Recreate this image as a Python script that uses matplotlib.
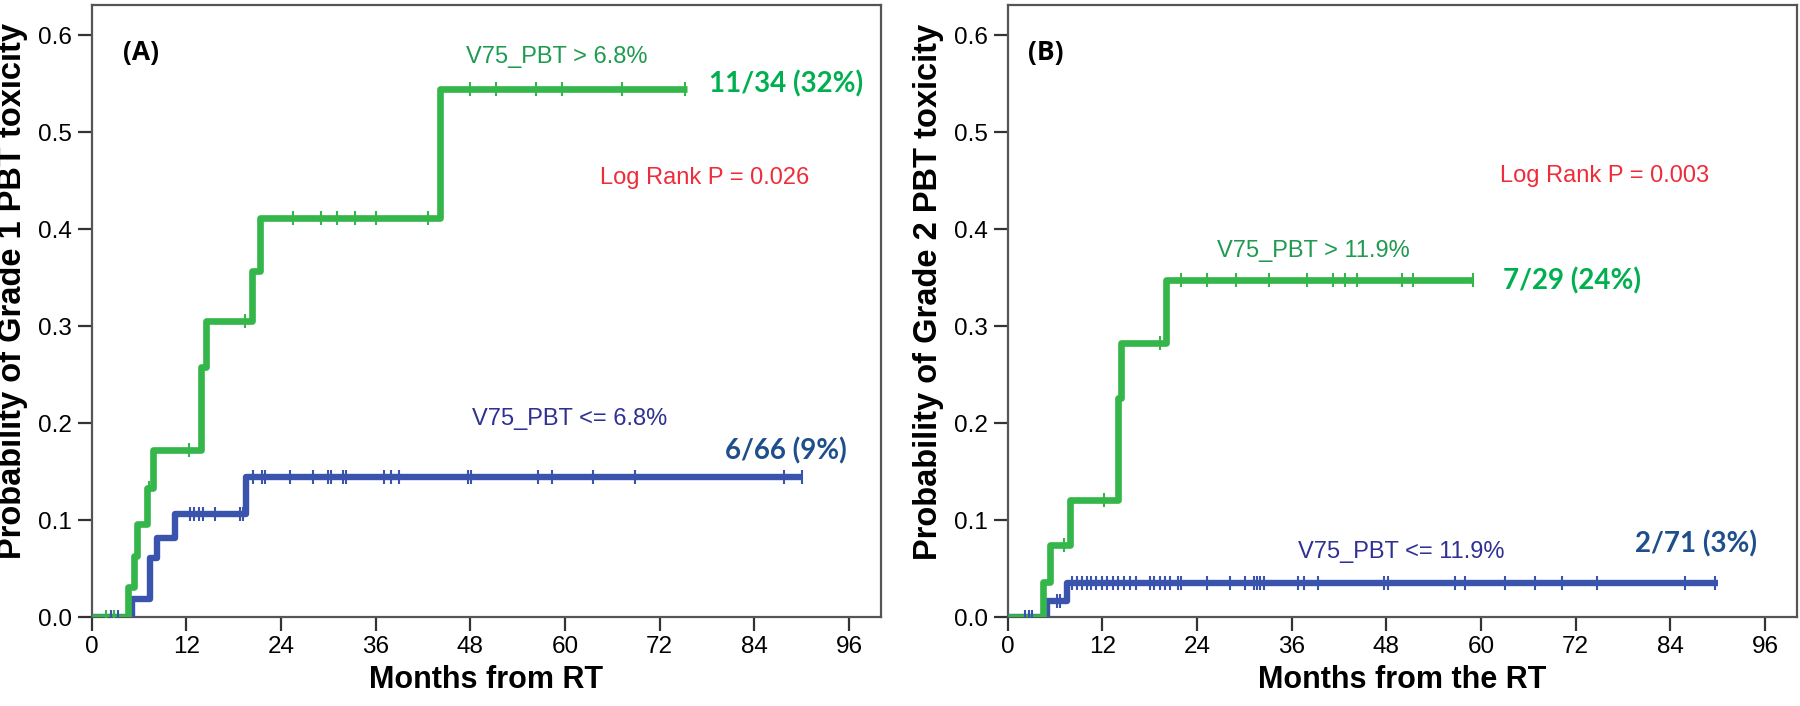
import numpy as np
import matplotlib
matplotlib.use("Agg")
import matplotlib.pyplot as plt

plt.rcParams['font.family'] = ['Liberation Sans', 'DejaVu Sans']

# ---------------- Data ----------------
# Panel A: Grade 1 PBT toxicity
a_hi_times = [0, 4.6, 5.4, 5.8, 7.0, 7.8, 13.9, 14.5, 20.3, 21.3, 44.2]
a_hi_vals = [0.0, 0.031, 0.063, 0.096, 0.133, 0.172, 0.258, 0.305, 0.357, 0.411, 0.544]
a_hi_end = 75.5
a_hi_cens = [1.8, 2.8, 7.3, 12.3, 19.4, 25.5, 29.1, 31.1, 33.4, 36.0, 42.7,
             48.0, 51.3, 56.3, 59.6, 67.2, 75.2]

a_lo_times = [0, 5.1, 7.4, 8.3, 10.6, 19.6]
a_lo_vals = [0.0, 0.019, 0.061, 0.082, 0.106, 0.144]
a_lo_end = 90.0
a_lo_cens = [2.4, 2.9, 3.3, 12.5, 13.0, 13.6, 14.1, 15.6, 18.8, 19.2, 20.5,
             21.6, 22.0, 25.1, 28.0, 29.9, 30.4, 31.8, 32.3, 37.0, 38.0, 39.0,
             47.7, 48.1, 56.6, 58.3, 63.6, 68.9, 87.7, 90.0]

# Panel B: Grade 2 PBT toxicity
b_hi_times = [0, 4.5, 5.4, 7.9, 14.0, 14.4, 20.1]
b_hi_vals = [0.0, 0.036, 0.074, 0.121, 0.226, 0.283, 0.348]
b_hi_end = 59.0
b_hi_cens = [7.1, 12.2, 19.3, 22.0, 25.3, 28.9, 33.1, 37.9, 41.2, 42.7, 44.3,
             50.0, 51.4, 59.0]

b_lo_times = [0, 5.0, 7.5]
b_lo_vals = [0.0, 0.017, 0.035]
b_lo_end = 90.0
b_lo_cens = [2.2, 2.7, 3.1, 6.2, 6.6, 8.2, 8.8, 9.4, 10.0, 10.6, 11.2, 11.9,
             12.6, 13.3, 14.0, 14.8, 15.5, 16.3, 18.0, 18.6, 19.3, 20.0, 20.6,
             21.6, 22.0, 25.3, 28.2, 30.1, 31.2, 31.6, 32.0, 32.5, 36.8, 37.6,
             39.4, 47.7, 48.2, 56.7, 58.0, 63.1, 66.9, 70.3, 74.7, 85.8, 89.7]

x_ticks = [0, 12, 24, 36, 48, 60, 72, 84, 96]
y_ticks = [0.0, 0.1, 0.2, 0.3, 0.4, 0.5, 0.6]

GREEN_LINE = '#35b64a'
BLUE_LINE = '#3a54ae'
GREEN_TXT = '#1f9a50'
GREEN_BOLD = '#00b050'
NAVY_TXT = '#2e3192'
BLUE_BOLD = '#1f4e8c'
RED_TXT = '#ee2c3a'

fig = plt.figure(figsize=(18, 7.06), dpi=100)
axA = fig.add_axes([0.0509, 0.126, 0.4383, 0.8669])
axB = fig.add_axes([0.5598, 0.126, 0.4383, 0.8669])


def draw_curve(ax, times, vals, end, cens, color, lw):
    t = list(times) + [end]
    v = list(vals) + [vals[-1]]
    ax.step(t, v, where='post', color=color, lw=lw, solid_capstyle='butt', zorder=3)
    idx = np.searchsorted(times, cens, side='right') - 1
    cy = np.array(vals)[idx]
    ax.plot(cens, cy, linestyle='none', marker='|', markersize=10, mew=1.5,
            color=color, zorder=4)


def style(ax, ylabel, xlabel):
    ax.set_xlim(0, 100)
    ax.set_ylim(0, 0.631)
    ax.set_xticks(x_ticks)
    ax.set_yticks(y_ticks)
    ax.set_yticklabels([f'{v:.1f}' for v in y_ticks])
    for s in ax.spines.values():
        s.set_color('#555555')
        s.set_linewidth(1.6)
    ax.tick_params(direction='out', length=10, width=1.6, color='#333333',
                   labelsize=17.5, pad=4)
    ax.set_ylabel(ylabel, fontsize=23.5, fontweight='bold')
    ax.yaxis.set_label_coords(-0.081, 0.532)
    ax.set_xlabel(xlabel, fontsize=22, fontweight='bold')
    ax.xaxis.set_label_coords(0.5, -0.078)


# Panel A
draw_curve(axA, a_lo_times, a_lo_vals, a_lo_end, a_lo_cens, BLUE_LINE, 4.6)
draw_curve(axA, a_hi_times, a_hi_vals, a_hi_end, a_hi_cens, GREEN_LINE, 4.8)
style(axA, 'Probability of Grade 1 PBT toxicity', 'Months from RT')
axA.text(6.3, 0.582, '(A)', fontsize=19, fontweight='bold', ha='center', va='center',
         family=['Open Sans', 'DejaVu Sans'])
axA.text(59.0, 0.577, 'V75_PBT > 6.8%', fontsize=17, color=GREEN_TXT, ha='center', va='center')
axA.text(88.0, 0.55, '11/34 (32%)', fontsize=20, fontweight='bold', color=GREEN_BOLD,
         ha='center', va='center', family=['Lato', 'DejaVu Sans'])
axA.text(77.7, 0.453, 'Log Rank P = 0.026', fontsize=17, color=RED_TXT, ha='center', va='center')
axA.text(60.6, 0.204, 'V75_PBT <= 6.8%', fontsize=17, color=NAVY_TXT, ha='center', va='center')
axA.text(88.0, 0.171, '6/66 (9%)', fontsize=20, fontweight='bold', color=BLUE_BOLD,
         ha='center', va='center', family=['Lato', 'DejaVu Sans'])

# Panel B
draw_curve(axB, b_lo_times, b_lo_vals, b_lo_end, b_lo_cens, BLUE_LINE, 4.6)
draw_curve(axB, b_hi_times, b_hi_vals, b_hi_end, b_hi_cens, GREEN_LINE, 4.8)
style(axB, 'Probability of Grade 2 PBT toxicity', 'Months from the RT')
axB.text(4.8, 0.582, '(B)', fontsize=19, fontweight='bold', ha='center', va='center',
         family=['Open Sans', 'DejaVu Sans'])
axB.text(38.8, 0.377, 'V75_PBT > 11.9%', fontsize=17, color=GREEN_TXT, ha='center', va='center')
axB.text(71.5, 0.347, '7/29 (24%)', fontsize=20, fontweight='bold', color=GREEN_BOLD,
         ha='center', va='center', family=['Lato', 'DejaVu Sans'])
axB.text(75.7, 0.455, 'Log Rank P = 0.003', fontsize=17, color=RED_TXT, ha='center', va='center')
axB.text(49.9, 0.067, 'V75_PBT <= 11.9%', fontsize=17, color=NAVY_TXT, ha='center', va='center')
axB.text(87.2, 0.075, '2/71 (3%)', fontsize=20, fontweight='bold', color=BLUE_BOLD,
         ha='center', va='center', family=['Lato', 'DejaVu Sans'])

fig.savefig('out.png', dpi=100)
